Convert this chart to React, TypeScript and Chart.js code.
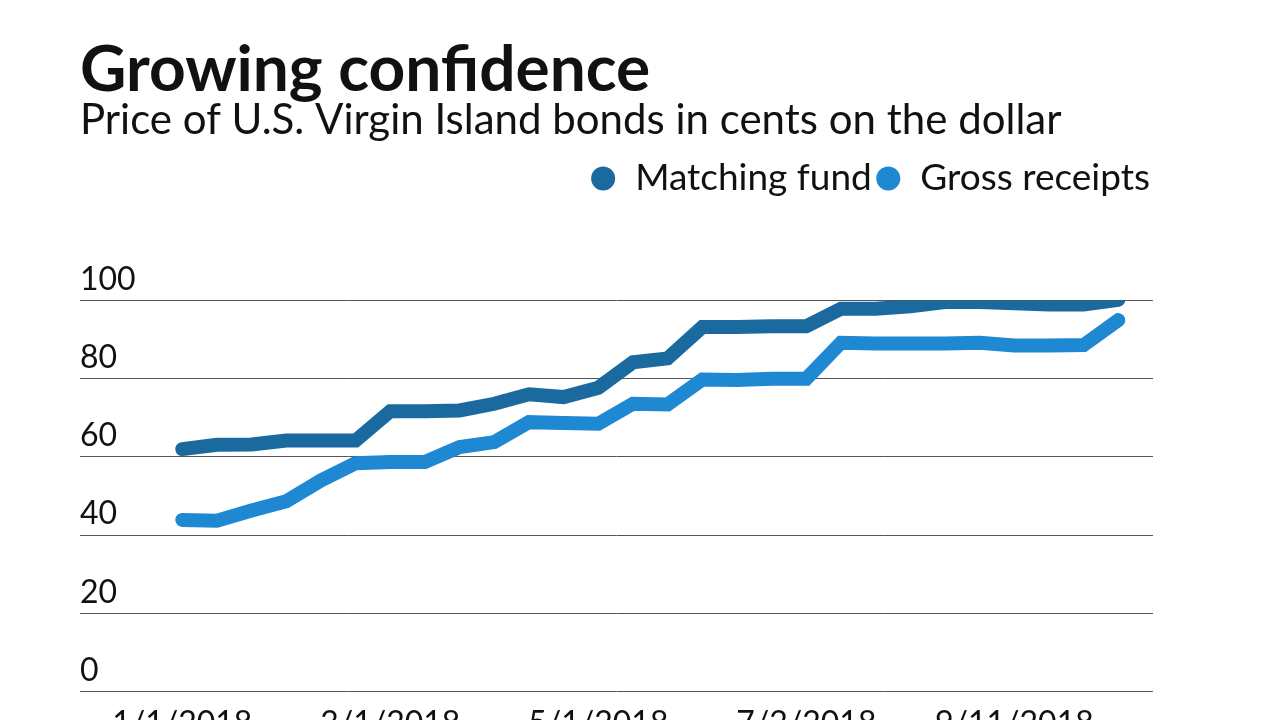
import React, { useEffect, useRef } from "react";
import { Chart, registerables } from "chart.js";

Chart.register(...registerables);

const TITLE = "Growing confidence";
const SUBTITLE = "Price of U.S. Virgin Island bonds in cents on the dollar";

// 28 observations; only some dates are labelled on the axis
const categories: string[] = [
  "1/1/2018", "", "", "", "", "",
  "3/1/2018", "", "", "", "", "",
  "5/1/2018", "", "", "", "", "",
  "7/2/2018", "", "", "", "", "",
  "9/11/2018", "", "", "",
];

const matchingFund: number[] = [
  62, 63.1, 63.2, 64.2, 64.2, 64.2, 71.7, 71.7, 71.9, 73.6, 76, 75.3, 77.7, 84.2,
  85.2, 93.2, 93.2, 93.4, 93.4, 97.9, 97.9, 98.5, 99.6, 99.6, 99.3, 99, 99, 100.2,
];

const grossReceipts: number[] = [
  43.9, 43.7, 46.3, 48.7, 54, 58.4, 58.7, 58.7, 62.5, 63.8, 68.9, 68.7, 68.5, 73.6,
  73.4, 79.8, 79.7, 80, 80, 89.2, 89, 89, 89, 89.2, 88.5, 88.5, 88.6, 95,
];

const yTicks: number[] = [0, 20, 40, 60, 80, 100];

const FONT = "Lato, 'Noto Sans', sans-serif";

export default function App() {
  const ref = useRef<HTMLCanvasElement | null>(null);

  useEffect(() => {
    if (!ref.current) return;

    const legendMargin = {
      id: "legendMargin",
      beforeInit(chart: any) {
        const orig = chart.legend.fit;
        chart.legend.fit = function () {
          orig.bind(chart.legend)();
          this.height += 93.5;
        };
      },
    };

    const chart = new Chart(ref.current, {
      type: "line",
      data: {
        datasets: [
          {
            label: "Matching fund",
            data: matchingFund.map((v, i) => ({ x: i, y: v })),
            borderColor: "#1b6a9f",
            backgroundColor: "#1b6a9f",
            borderWidth: 14,
            pointRadius: 0,
            borderCapStyle: "round",
            borderJoinStyle: "miter",
            tension: 0,
          },
          {
            label: "Gross receipts",
            data: grossReceipts.map((v, i) => ({ x: i, y: v })),
            borderColor: "#1e88d3",
            backgroundColor: "#1e88d3",
            borderWidth: 14,
            pointRadius: 0,
            borderCapStyle: "round",
            borderJoinStyle: "miter",
            tension: 0,
          },
        ],
      },
      options: {
        animation: false,
        responsive: false,
        maintainAspectRatio: false,
        layout: { padding: { left: 80, right: 127, top: 0, bottom: 30 } },
        plugins: {
          title: {
            display: true,
            text: TITLE,
            align: "start",
            color: "#111",
            font: { family: FONT, size: 64, weight: "bold", lineHeight: 1.0 },
            padding: { top: 38, bottom: 0 },
          },
          subtitle: {
            display: true,
            text: SUBTITLE,
            align: "start",
            color: "#111",
            font: { family: FONT, size: 42, weight: "normal", lineHeight: 1.0 },
            padding: { top: -3, bottom: 16 },
          },
          legend: {
            display: true,
            position: "top",
            align: "end",
            labels: {
              usePointStyle: true,
              boxWidth: 27,
              boxHeight: 17,
              padding: 3,
              color: "#111",
              font: { family: FONT, size: 37 },
              generateLabels(chart: any) {
                const items = Chart.defaults.plugins.legend.labels.generateLabels(chart);
                return items.map((it: any) => ({ ...it, lineWidth: 0, pointStyle: "circle" }));
              },
            },
          },
          tooltip: { enabled: false },
        },
        scales: {
          x: {
            type: "linear",
            min: -2.95,
            max: 28,
            grid: { display: false },
            border: { display: false },
            afterBuildTicks(axis: any) {
              axis.ticks = categories
                .map((c, i) => ({ c, i }))
                .filter((o) => o.c !== "")
                .map((o) => ({ value: o.i }));
            },
            ticks: {
              autoSkip: false,
              maxRotation: 0,
              padding: 5,
              color: "#111",
              font: { family: FONT, size: 32 },
              callback: (v: any) => categories[Number(v)] ?? "",
            },
          },
          y: {
            min: 0,
            max: 100,
            afterBuildTicks(axis: any) {
              axis.ticks = yTicks.map((v) => ({ value: v }));
            },
            grid: { color: "#555", lineWidth: 1, drawTicks: false },
            border: { display: false },
            ticks: {
              mirror: true,
              padding: 0,
              labelOffset: -21,
              color: "#111",
              font: { family: FONT, size: 32 },
            },
          },
        },
      },
      plugins: [legendMargin],
    } as any);

    return () => chart.destroy();
  }, []);

  return (
    <div
      style={{
        position: "absolute",
        left: 0,
        top: 0,
        width: 1280,
        height: 720,
        overflow: "hidden",
        background: "#fff",
      }}
    >
      <canvas ref={ref} width={1280} height={778} style={{ display: "block" }} />
    </div>
  );
}
